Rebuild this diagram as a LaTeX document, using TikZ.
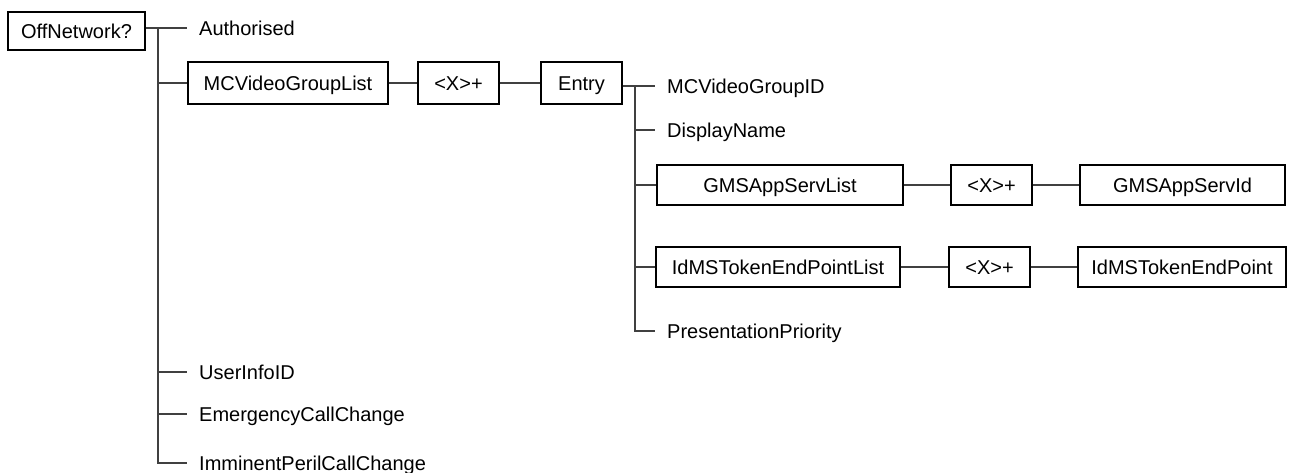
\documentclass[tikz,border=0pt]{standalone}
\usepackage{fontspec}
\setmainfont{Liberation Sans}
\begin{document}
\begin{tikzpicture}[x=1pt,y=-1pt,
  every node/.style={font=\fontsize{20}{23}\selectfont},
  box/.style={draw=black,line width=1.2pt,inner sep=0pt,minimum height=40pt,text height=14.4pt,text depth=0pt},
  leaf/.style={anchor=west,inner ysep=0pt,inner xsep=12pt,text height=14.4pt,text depth=0pt},
  conn/.style={draw=black!75,line width=1.3pt}]
\useasboundingbox (0,0) rectangle (1295,473);
% boxes
\node[box,minimum width=137pt,minimum height=38pt] (off) at (76.5,31) {OffNetwork?};
\node[box,minimum width=200pt,minimum height=42pt] (mcv) at (288,83) {MCVideoGroupList};
\node[box,minimum width=81pt,minimum height=42pt] (xa) at (458.5,83) {<X>+};
\node[box,minimum width=81pt,minimum height=42pt] (entry) at (581.5,83) {Entry};
\node[box,minimum width=246pt] (gms) at (780,185) {GMSAppServList};
\node[box,minimum width=81pt] (xb) at (991.5,185) {<X>+};
\node[box,minimum width=205pt] (gmsid) at (1182.5,185) {GMSAppServId};
\node[box,minimum width=244pt] (idms) at (778,267) {IdMSTokenEndPointList};
\node[box,minimum width=81pt] (xc) at (989.5,267) {<X>+};
\node[box,minimum width=208pt] (idmsep) at (1182,267) {IdMSTokenEndPoint};
% leaves of main trunk
\node[leaf] (auth) at (187,28) {Authorised};
\node[leaf] (uid) at (187,372) {UserInfoID};
\node[leaf] (ecc) at (187,414) {EmergencyCallChange};
\node[leaf] (ipc) at (187,463) {ImminentPerilCallChange};
% leaves of entry trunk
\node[leaf] (mgid) at (655,86) {MCVideoGroupID};
\node[leaf] (dn) at (655,130) {DisplayName};
\node[leaf] (pp) at (655,331) {PresentationPriority};
% trunks
\coordinate (t0) at (158,28);
\coordinate (t1) at (158,463);
\coordinate (s0) at (635,86);
\coordinate (s1) at (635,331);
\draw[conn] (off.east |- t0) -- (auth.west);
\draw[conn] (t0) -- (t1) -- (ipc.west);
\draw[conn] (t0 |- mcv) -- (mcv.west);
\draw[conn] (t0 |- uid) -- (uid.west);
\draw[conn] (t0 |- ecc) -- (ecc.west);
\draw[conn] (mcv) -- (xa);
\draw[conn] (xa) -- (entry);
\draw[conn] (entry.east |- s0) -- (mgid.west);
\draw[conn] (s0) -- (s1) -- (pp.west);
\draw[conn] (s0 |- dn) -- (dn.west);
\draw[conn] (s0 |- gms) -- (gms.west);
\draw[conn] (s0 |- idms) -- (idms.west);
\draw[conn] (gms) -- (xb);
\draw[conn] (xb) -- (gmsid);
\draw[conn] (idms) -- (xc);
\draw[conn] (xc) -- (idmsep);
\end{tikzpicture}
\end{document}
